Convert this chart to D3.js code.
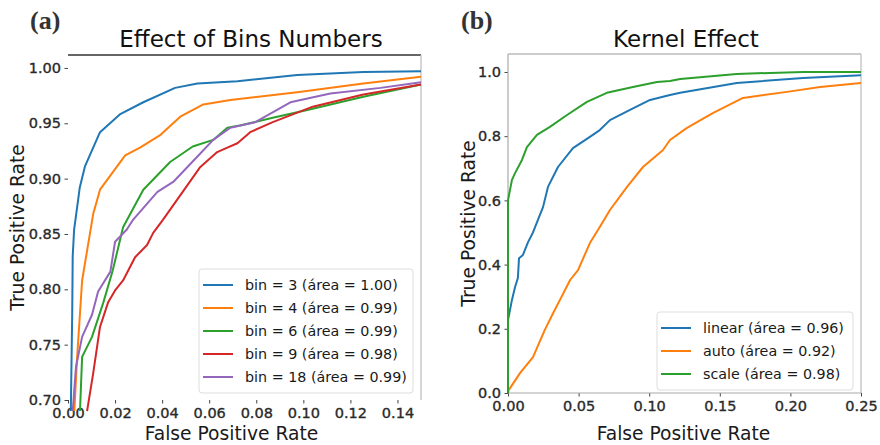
<!DOCTYPE html>
<html>
<head>
<meta charset="utf-8">
<script src="https://cdn.jsdelivr.net/npm/d3@7"></script>
<style>
  body { margin: 0; background: #fff; }
  svg { display: block; font-family: 'DejaVu Sans', sans-serif; }
</style>
</head>
<body>
<div id="chart"></div>
<script>
// panel (a): ROC points [fpr, tpr]
const bin3Roc = [[0.0012, 0.69], [0.0018, 0.78], [0.002, 0.83], [0.0026, 0.854], [0.004, 0.876], [0.005, 0.892],
  [0.0072, 0.911], [0.0136, 0.942], [0.022, 0.958], [0.032, 0.969], [0.0455, 0.982], [0.055, 0.986],
  [0.072, 0.988], [0.0974, 0.9937], [0.1255, 0.9964], [0.15, 0.997]]
const bin4Roc = [[0.0027, 0.69], [0.0038, 0.736], [0.006, 0.808], [0.0107, 0.868], [0.0136, 0.89], [0.0243, 0.921],
  [0.0306, 0.928], [0.039, 0.939], [0.0477, 0.956], [0.0575, 0.967], [0.069, 0.971], [0.0974, 0.978],
  [0.1255, 0.986], [0.15, 0.992]]
const bin6Roc = [[0.0051, 0.69], [0.006, 0.739], [0.0102, 0.757], [0.015, 0.788], [0.019, 0.817], [0.0234, 0.856],
  [0.032, 0.89], [0.0434, 0.915], [0.053, 0.929], [0.0617, 0.935], [0.0677, 0.946], [0.073, 0.948],
  [0.087, 0.955], [0.1017, 0.962], [0.1255, 0.974], [0.15, 0.985]]
const bin9Roc = [[0.0081, 0.69], [0.0107, 0.724], [0.0136, 0.766], [0.017, 0.788], [0.02, 0.799], [0.0234, 0.808],
  [0.0285, 0.829], [0.0336, 0.84], [0.0362, 0.851], [0.0404, 0.863], [0.0464, 0.881], [0.056, 0.91],
  [0.0634, 0.924], [0.0677, 0.928], [0.072, 0.932], [0.0774, 0.942], [0.087, 0.951], [0.104, 0.965],
  [0.1255, 0.976], [0.15, 0.985]]
const bin18Roc = [[0.002, 0.69], [0.0034, 0.73], [0.006, 0.757], [0.0102, 0.777], [0.0128, 0.798], [0.018, 0.816],
  [0.02, 0.843], [0.025, 0.854], [0.0277, 0.863], [0.038, 0.888], [0.0447, 0.897], [0.055, 0.92],
  [0.0617, 0.935], [0.069, 0.946], [0.0796, 0.951], [0.0945, 0.969], [0.1115, 0.977], [0.1328, 0.982],
  [0.15, 0.987]]
const binLabels = ['bin = 3 (área = 1.00)', 'bin = 4 (área = 0.99)', 'bin = 6 (área = 0.99)',
  'bin = 9 (área = 0.98)', 'bin = 18 (área = 0.99)']
const binXTicks = [0, 0.02, 0.04, 0.06, 0.08, 0.10, 0.12, 0.14]
const binYTicks = [0.70, 0.75, 0.80, 0.85, 0.90, 0.95, 1.00]

// panel (b)
const linearRoc = [[0, 0], [0, 0.143], [0, 0.227], [0.0028, 0.29], [0.005, 0.33], [0.007, 0.358], [0.0078, 0.42],
  [0.0106, 0.43], [0.0142, 0.47], [0.0177, 0.5], [0.0212, 0.539], [0.0248, 0.579], [0.0283, 0.642],
  [0.0354, 0.704], [0.046, 0.763], [0.058, 0.798], [0.065, 0.819], [0.0722, 0.85], [0.0864, 0.882],
  [0.1006, 0.913], [0.1147, 0.928], [0.122, 0.935], [0.162, 0.966], [0.209, 0.981], [0.25, 0.99]]
const autoRoc = [[0, 0], [0.0005, 0.009], [0.0085, 0.062], [0.0177, 0.112], [0.026, 0.196], [0.032, 0.249],
  [0.0368, 0.29], [0.044, 0.352], [0.0496, 0.383], [0.058, 0.467], [0.065, 0.517], [0.0722, 0.57],
  [0.0843, 0.642], [0.0956, 0.704], [0.1098, 0.757], [0.1147, 0.788], [0.1268, 0.826], [0.145, 0.872],
  [0.1664, 0.919], [0.1976, 0.938], [0.221, 0.953], [0.25, 0.966]]
const scaleRoc = [[0, 0], [0, 0.508], [0, 0.6], [0.0028, 0.664], [0.005, 0.685], [0.0099, 0.726], [0.0134, 0.766],
  [0.0205, 0.804], [0.0297, 0.829], [0.0418, 0.866], [0.0559, 0.907], [0.07, 0.935], [0.0885, 0.953],
  [0.1055, 0.969], [0.1147, 0.972], [0.122, 0.978], [0.162, 0.994], [0.209, 1.0], [0.25, 1.0]]
const kernelLabels = ['linear (área = 0.96)', 'auto (área = 0.92)', 'scale (área = 0.98)']
const kernelXTicks = [0, 0.05, 0.10, 0.15, 0.20, 0.25]
const kernelYTicks = [0, 0.2, 0.4, 0.6, 0.8, 1.0]

const colors = ['#1f77b4', '#ff7f0e', '#2ca02c', '#d62728', '#9467bd']

const width = 880
const height = 445

const svg = d3.select('#chart')
  .append('svg')
  .attr('width', width)
  .attr('height', height)

function drawPanel (opts) {
  const g = svg.append('g')
  const x = d3.scaleLinear().domain(opts.xDomain).range([opts.left, opts.right])
  const y = d3.scaleLinear().domain(opts.yDomain).range([opts.bottom, opts.top])

  const clipId = 'clip-' + opts.tag
  g.append('clipPath').attr('id', clipId)
    .append('rect')
    .attr('x', opts.left).attr('y', opts.top)
    .attr('width', opts.right - opts.left)
    .attr('height', opts.bottom - opts.top)

  // axes
  const xAxis = g.append('g')
    .attr('transform', `translate(0,${opts.bottom})`)
    .call(d3.axisBottom(x).tickValues(opts.xTicks).tickFormat(d3.format(opts.xFmt)).tickSize(3.5).tickPadding(4))
  const yAxis = g.append('g')
    .attr('transform', `translate(${opts.left},0)`)
    .call(d3.axisLeft(y).tickValues(opts.yTicks).tickFormat(d3.format(opts.yFmt)).tickSize(3.5).tickPadding(3.5))
  for (const ax of [xAxis, yAxis]) {
    ax.select('.domain').remove()
    ax.selectAll('.tick line').attr('stroke', '#444')
    ax.selectAll('.tick text')
      .attr('font-family', 'DejaVu Sans')
      .attr('font-size', 14.5)
      .attr('fill', '#2a2a2a')
      .attr('stroke', '#2a2a2a')
      .attr('stroke-width', 0.35)
  }

  // spines
  for (const s of opts.spines) {
    const pos = {
      top: [opts.left, opts.top, opts.right, opts.top],
      right: [opts.right, opts.top, opts.right, opts.bottom],
      bottom: [opts.left, opts.bottom, opts.right, opts.bottom],
      left: [opts.left, opts.top, opts.left, opts.bottom]
    }[s.side]
    g.append('line')
      .attr('x1', pos[0]).attr('y1', pos[1]).attr('x2', pos[2]).attr('y2', pos[3])
      .attr('stroke', s.color)
      .attr('stroke-width', s.width)
  }

  // curves
  const line = d3.line().x(d => x(d[0])).y(d => y(d[1]))
  g.append('g')
    .attr('clip-path', `url(#${clipId})`)
    .selectAll('path')
    .data(opts.series)
    .enter()
    .append('path')
    .attr('d', d => line(d))
    .attr('fill', 'none')
    .attr('stroke', (d, i) => colors[i])
    .attr('stroke-width', 2)
    .attr('stroke-linejoin', 'round')

  // titles and labels
  g.append('text')
    .attr('x', opts.titleX).attr('y', 47)
    .attr('text-anchor', 'middle')
    .attr('font-size', 23)
    .attr('fill', '#111')
    .text(opts.title)

  g.append('text')
    .attr('x', opts.tagX).attr('y', 29)
    .attr('font-family', 'Liberation Serif, serif')
    .attr('font-weight', 'bold')
    .attr('font-size', 26)
    .attr('fill', '#333')
    .text(opts.tag)

  g.append('text')
    .attr('x', (opts.left + opts.right) / 2 + opts.xLabelShift)
    .attr('y', 440)
    .attr('text-anchor', 'middle')
    .attr('font-size', 18.7)
    .attr('fill', '#1a1a1a')
    .text('False Positive Rate')

  g.append('text')
    .attr('transform', `translate(${opts.yLabelX},${(opts.top + opts.bottom) / 2}) rotate(-90)`)
    .attr('text-anchor', 'middle')
    .attr('font-size', 18.7)
    .attr('fill', '#1a1a1a')
    .text('True Positive Rate')

  // legend
  const lg = g.append('g').attr('transform', `translate(${opts.legend.x},${opts.legend.y})`)
  lg.append('rect')
    .attr('width', opts.legend.w)
    .attr('height', opts.labels.length * 23 + 9)
    .attr('rx', 3)
    .attr('fill', '#fff')
    .attr('fill-opacity', 0.85)
    .attr('stroke', '#ddd')
  const item = lg.selectAll('.item')
    .data(opts.labels)
    .enter()
    .append('g')
    .attr('class', 'item')
    .attr('transform', (d, i) => `translate(0,${16 + i * 23})`)
  item.append('line')
    .attr('x1', 4).attr('x2', 34)
    .attr('stroke', (d, i) => colors[i])
    .attr('stroke-width', 2)
  item.append('text')
    .attr('x', 46)
    .attr('dy', '0.35em')
    .attr('font-size', 14.3)
    .attr('fill', '#1a1a1a')
    .text(d => d)
}

drawPanel({
  tag: '(a)',
  tagX: 30,
  left: 68, right: 421, top: 55, bottom: 400,
  xDomain: [0, 0.15], yDomain: [0.70, 1.0117],
  xTicks: binXTicks, yTicks: binYTicks, xFmt: '.2f', yFmt: '.2f',
  series: [bin3Roc, bin4Roc, bin6Roc, bin9Roc, bin18Roc],
  labels: binLabels,
  title: 'Effect of Bins Numbers', titleX: 251,
  xLabelShift: -13, yLabelX: 24,
  spines: [{ side: 'top', color: '#333', width: 1.5 }, { side: 'right', color: '#bbb', width: 1.2 }],
  legend: { x: 199, y: 269, w: 214 }
})

drawPanel({
  tag: '(b)',
  tagX: 461,
  left: 508, right: 861, top: 54, bottom: 393,
  xDomain: [0, 0.25], yDomain: [0, 1.056],
  xTicks: kernelXTicks, yTicks: kernelYTicks, xFmt: '.2f', yFmt: '.1f',
  series: [linearRoc, autoRoc, scaleRoc],
  labels: kernelLabels,
  title: 'Kernel Effect', titleX: 686,
  xLabelShift: -1, yLabelX: 475,
  spines: [{ side: 'top', color: '#999', width: 1.2 }, { side: 'right', color: '#bbb', width: 1.2 },
    { side: 'bottom', color: '#aaa', width: 1.2 }, { side: 'left', color: '#aaa', width: 1.2 }],
  legend: { x: 657, y: 312, w: 196 }
})
</script>
</body>
</html>
